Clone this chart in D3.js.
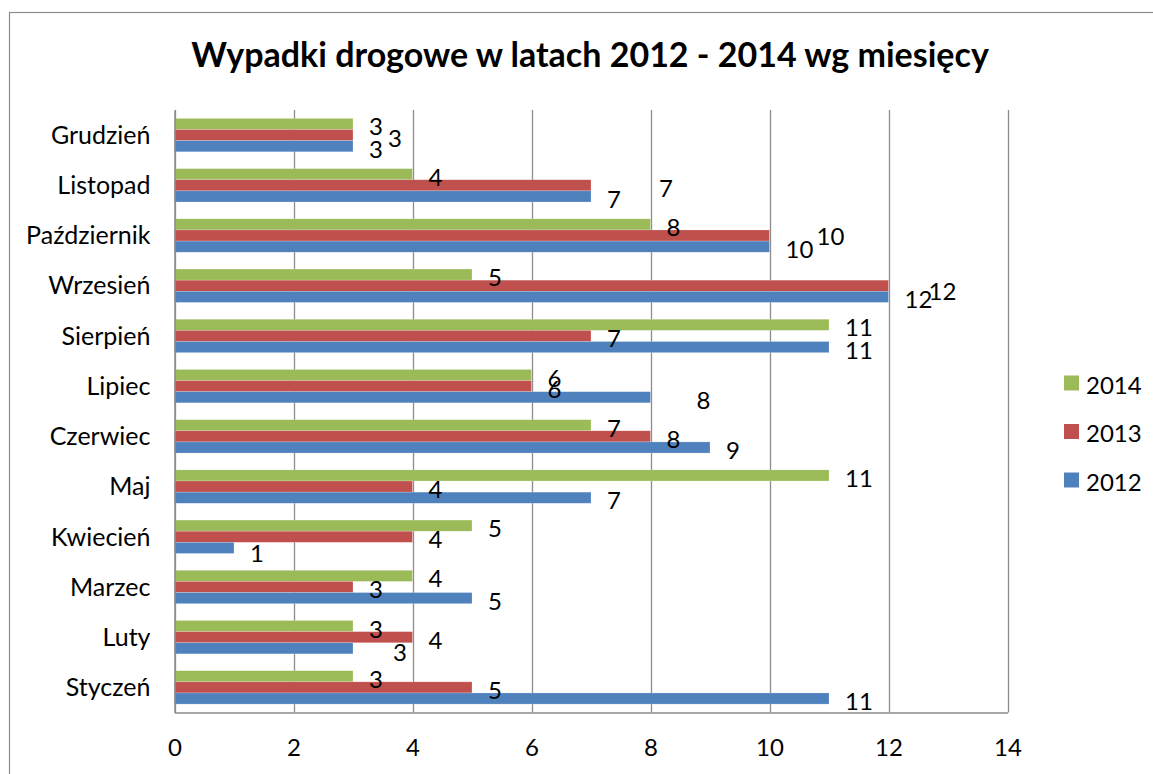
<!DOCTYPE html>
<html><head><meta charset="utf-8">
<script src="https://cdn.jsdelivr.net/npm/d3@7"></script>
<style>
html,body{margin:0;padding:0;background:#fff;}
svg{display:block;}
text{font-family:Lato,"Open Sans",sans-serif;fill:#000;}
</style></head><body>
<script>
// ---- data ----
const months = ["Styczeń","Luty","Marzec","Kwiecień","Maj","Czerwiec","Lipiec","Sierpień","Wrzesień","Październik","Listopad","Grudzień"];
const series = ["2014","2013","2012"];
const v2012 = [11,3,5,1,7,9,8,11,12,10,7,3];
const v2013 = [5,4,3,4,4,8,6,7,12,10,7,3];
const v2014 = [3,3,4,5,11,7,6,11,5,8,4,3];
const xTicks = [0,2,4,6,8,10,12,14];
const titleText = "Wypadki drogowe w latach 2012 - 2014 wg miesięcy";
// manual label nudges (px) as in the original chart
const labelNudge = [
  {m:"Grudzień", s:"2013", dx:19, dy:0},
  {m:"Listopad", s:"2013", dx:52, dy:0},
  {m:"Październik", s:"2013", dx:31, dy:-2},
  {m:"Wrzesień", s:"2013", dx:24, dy:3},
  {m:"Lipiec", s:"2012", dx:30, dy:0},
  {m:"Kwiecień", s:"2012", dx:0, dy:3},
  {m:"Luty", s:"2012", dx:24, dy:1}
];

const colors = {"2014":"#9BBB59","2013":"#C0504D","2012":"#4F81BD"};
const valuesBySeries = {"2014":v2014,"2013":v2013,"2012":v2012};

const W = 1153, H = 774;
const svg = d3.select("body").append("svg").attr("width",W).attr("height",H);

// outer chart border
svg.append("rect").attr("x",9.5).attr("y",12.5).attr("width",1300).attr("height",900)
  .attr("fill","none").attr("stroke","#8c8c8c").attr("stroke-width",1.2);

const plot = {left:174.5, right:1007.5, top:110, bottom:712.5};

const x = d3.scaleLinear().domain([0,14]).range([plot.left, plot.right]);
const y = d3.scaleBand().domain(months.slice().reverse()).range([plot.top, plot.bottom])
  .paddingInner(0.335).paddingOuter(0.1675);
const ySub = d3.scaleBand().domain(series).range([0, y.bandwidth()]);

// title
svg.append("text").attr("x",590).attr("y",67).attr("text-anchor","middle")
  .style("font-size","34px").style("font-weight","bold").text(titleText);

// gridlines
svg.append("g").selectAll("line").data(xTicks).join("line")
  .attr("x1",d=>Math.round(x(d))+0.5).attr("x2",d=>Math.round(x(d))+0.5)
  .attr("y1",plot.top).attr("y2",plot.bottom)
  .attr("stroke","#8c8c8c").attr("stroke-width",1.3);

// bars
const rows = [];
months.forEach((m,i)=>series.forEach(s=>rows.push({m, s, v:valuesBySeries[s][i]})));
svg.append("g").selectAll("rect").data(rows).join("rect")
  .attr("x",x(0)).attr("y",d=>y(d.m)+ySub(d.s))
  .attr("width",d=>x(d.v)-x(0)).attr("height",ySub.bandwidth())
  .attr("fill",d=>colors[d.s])
  .attr("stroke","rgba(255,255,255,0.35)").attr("stroke-width",0.6);

// axes
const xAxis = d3.axisBottom(x).tickValues(xTicks).tickSize(0).tickPadding(26);
const gx = svg.append("g").attr("transform",`translate(0,${plot.bottom})`).call(xAxis);
gx.select(".domain").attr("stroke","#8c8c8c").attr("stroke-width",1.5);
gx.selectAll("text").style("font-size","24px").style("font-family","Lato");

const yAxis = d3.axisLeft(y).tickSize(0).tickPadding(24);
const gy = svg.append("g").attr("transform",`translate(${plot.left},0)`).call(yAxis);
gy.select(".domain").attr("stroke","#8c8c8c").attr("stroke-width",1.5);
gy.selectAll("text").style("font-size","25px").style("font-family","Lato").attr("dy","0.35em");

// data labels
const nudge = (m,s)=>labelNudge.find(n=>n.m===m && n.s===s) || {dx:0,dy:0};
svg.append("g").selectAll("text").data(rows).join("text")
  .attr("x",d=>x(d.v)+16+nudge(d.m,d.s).dx)
  .attr("y",d=>y(d.m)+ySub(d.s)+ySub.bandwidth()/2+2+nudge(d.m,d.s).dy)
  .attr("dominant-baseline","central")
  .style("font-size","24px")
  .text(d=>d.v);

// legend
const lg = svg.append("g").attr("transform","translate(1064,383)");
series.forEach((s,i)=>{
  const g = lg.append("g").attr("transform",`translate(0,${i*48.5})`);
  g.append("rect").attr("x",0).attr("y",-7.5).attr("width",15).attr("height",15).attr("fill",colors[s]);
  g.append("text").attr("x",22).attr("y",1).attr("dominant-baseline","central").style("font-size","24px").text(s);
});
</script>
</body></html>
